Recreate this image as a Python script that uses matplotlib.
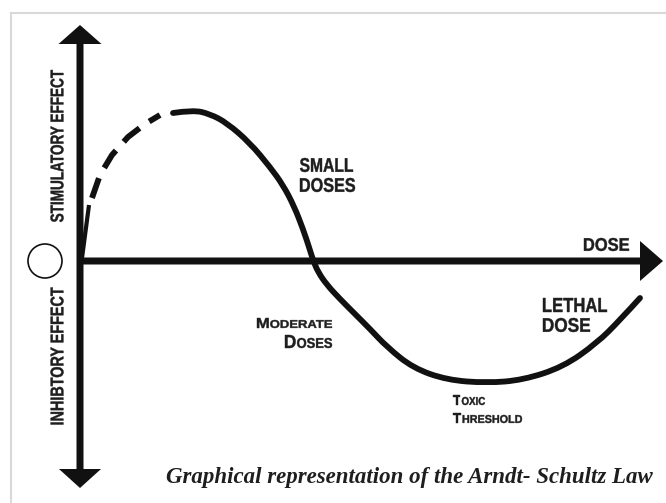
import matplotlib.pyplot as plt
from matplotlib.patches import Circle, PathPatch
from matplotlib.path import Path
from matplotlib.textpath import TextPath
from matplotlib.font_manager import FontProperties
from matplotlib.transforms import Affine2D

# curve: dose to the right of the origin, effect above (+) / below (-) the dose axis
rise_dose = [2, 9]
rise_effect = [3, 56]

dash_dose = [12, 20, 32, 48, 65, 80]
dash_effect = [63, 86, 106, 124, 137, 146]

curve_dose = [93, 113, 130, 147, 170, 190, 203, 214, 223, 229, 233, 238, 247, 260, 275, 290,
              307, 333, 367, 407, 443, 483, 517, 540, 560]
curve_effect = [148, 151, 147, 138, 118, 94, 76, 55, 32, 14, 1, -11, -24, -38, -53, -68,
                -86, -107, -119, -122, -119, -106, -82, -59, -37]

ink = '#111111'
txt = '#1e1e1e'
bold_fp = FontProperties(family=['Liberation Sans', 'DejaVu Sans'], weight='bold')

fig = plt.figure(figsize=(6.66, 5.03), dpi=100)
ax = fig.add_axes([0, 0, 1, 1])
ax.set_xlim(-80, 586)   # one data unit = one pixel
ax.set_ylim(-242, 261)
ax.axis('off')


def smooth_path(xs, ys):
    # quadratic bezier through the midpoints, read points act as control points
    pts = list(zip(xs, ys))
    verts = [pts[0]]
    codes = [Path.MOVETO]
    for i in range(1, len(pts) - 1):
        mid = ((pts[i][0] + pts[i + 1][0]) / 2, (pts[i][1] + pts[i + 1][1]) / 2)
        if i == len(pts) - 2:
            mid = pts[-1]
        verts += [pts[i], mid]
        codes += [Path.CURVE3, Path.CURVE3]
    return Path(verts, codes)


def squeezed(x, y, s, w, h, rot=0):
    # bold caps squeezed into a w x h box centred on (x, y), like the narrow lettering
    tp = TextPath((0, 0), s, size=100, prop=bold_fp)
    e = tp.get_extents()
    tr = (Affine2D().translate(-e.x0, -e.y0).scale(w / e.width, h / e.height)
          .translate(-w / 2, -h / 2).rotate_deg(rot).translate(x, y))
    ax.add_patch(PathPatch(tr.transform_path(tp), fc=txt, ec=txt, lw=0.3))


def small_caps(x0, x1, base, word, h1, h2):
    # first letter tall, the rest short, fitted between x0 and x1 on the baseline
    p1 = TextPath((0, 0), word[0], size=100, prop=bold_fp)
    p2 = TextPath((0, 0), word[1:], size=100, prop=bold_fp)
    e1, e2 = p1.get_extents(), p2.get_extents()
    s1, s2 = h1 / e1.height, h2 / e2.height
    gap = 1.5
    w1, w2 = e1.width * s1, e2.width * s2
    k = (x1 - x0 - gap) / (w1 + w2)
    t1 = Affine2D().translate(-e1.x0, -e1.y0).scale(s1 * k, s1).translate(x0, base)
    t2 = Affine2D().translate(-e2.x0, -e2.y0).scale(s2 * k, s2).translate(x0 + w1 * k + gap, base)
    ax.add_patch(PathPatch(t1.transform_path(p1), fc=txt, ec=txt, lw=0.3))
    ax.add_patch(PathPatch(t2.transform_path(p2), fc=txt, ec=txt, lw=0.3))


# light frame round the picture
ax.plot([-69, -69], [-242, 248], color='#d9d9d9', lw=1.5)
ax.plot([-69, 586], [248, 248], color='#d9d9d9', lw=1.5)

# axes with arrow heads
ax.arrow(0, 0, 0, 236, width=7, head_width=43, head_length=19, length_includes_head=True,
         color=ink, lw=0)
ax.arrow(0, 0, 0, -227, width=7, head_width=42, head_length=19, length_includes_head=True,
         color=ink, lw=0)
ax.arrow(0, 0, 583, 0, width=7, head_width=40, head_length=23, length_includes_head=True,
         color=ink, lw=0)

ax.add_patch(Circle((-35, 0), 17, fill=False, ec=ink, lw=1.2))

# the dose-response curve
ax.plot(rise_dose, rise_effect, color=ink, lw=3, solid_capstyle='butt')
ax.plot(dash_dose, dash_effect, color=ink, lw=4.2, dashes=(3.6, 2.0), dash_capstyle='butt',
        solid_joinstyle='round')
ax.add_patch(PathPatch(smooth_path(curve_dose, curve_effect), fill=False, ec=ink, lw=4.2,
                       capstyle='round', joinstyle='round'))

# labels
squeezed(-23, 115, 'STIMULATORY EFFECT', 152, 13, rot=90)
squeezed(-23, -95, 'INHIBTORY EFFECT', 137, 13, rot=90)
squeezed(246.5, 96, 'SMALL', 53, 14)
squeezed(247.5, 76, 'DOSES', 55, 14)
squeezed(526.5, 16.5, 'DOSE', 45, 13)
squeezed(495, -44, 'LETHAL', 64, 14)
squeezed(486.5, -64, 'DOSE', 47, 14)

small_caps(177, 252, -67, 'MODERATE', 10, 8)
small_caps(205, 252, -87, 'DOSES', 13, 10)
small_caps(373, 405, -144, 'TOXIC', 10, 8)
small_caps(373, 442, -162, 'THRESHOLD', 10, 8)

ax.text(573, -222, 'Graphical representation of the Arndt- Schultz Law', ha='right',
        va='baseline', family=['Liberation Serif', 'DejaVu Serif'], style='italic',
        weight='bold', fontsize=16.5, color=txt)

fig.savefig('out.png', dpi=100)
